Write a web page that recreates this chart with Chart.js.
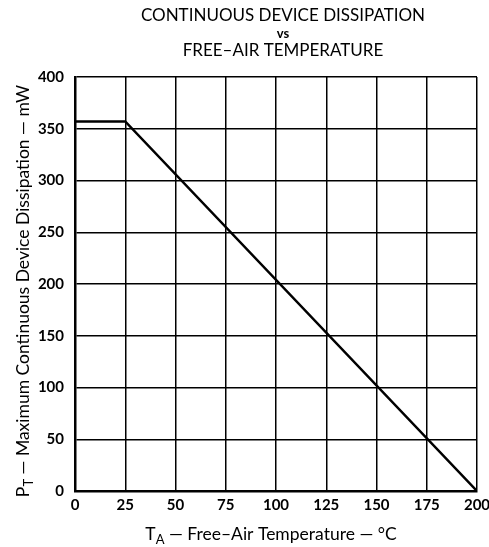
<!DOCTYPE html>
<html>
<head>
<meta charset="utf-8">
<script src="https://cdn.jsdelivr.net/npm/chart.js@4.4.0/dist/chart.umd.min.js"></script>
<style>
  html, body { margin: 0; padding: 0; background: #fff; }
  #wrap { width: 489px; height: 547px; }
</style>
</head>
<body>
<div id="wrap"><canvas id="chart" width="489" height="547"></canvas></div>
<script>
// Data
const temps = [0, 25, 200];          // T_A, °C
const dissipation = [357, 357, 0];   // P_T, mW
const xTicks = [0, 25, 50, 75, 100, 125, 150, 175, 200];
const yTicks = [0, 50, 100, 150, 200, 250, 300, 350, 400];
const titleLines = ['CONTINUOUS DEVICE DISSIPATION', 'vs', 'FREE\u2013AIR TEMPERATURE'];

const FONT = 'Lato, "DejaVu Sans", sans-serif';

// draws title and axis titles (with subscripts)
const textPlugin = {
    id: 'texts',
    afterDraw(chart) {
        const ctx = chart.ctx;
        ctx.save();
        ctx.fillStyle = '#000';
        ctx.textBaseline = 'alphabetic';
        ctx.textAlign = 'center';
        ctx.font = '17px ' + FONT;
        ctx.fillText(titleLines[0], 283, 21);
        ctx.font = 'bold 13px ' + FONT;
        ctx.fillText(titleLines[1], 283, 38);
        ctx.font = '17px ' + FONT;
        ctx.fillText(titleLines[2], 283, 56);

        // x axis title
        ctx.textAlign = 'left';
        drawSub(ctx, 'T', 'A', ' \u2014 Free\u2013Air Temperature \u2014 \u00b0C', 271, 540, 17.5);
        ctx.restore();

        ctx.save();
        ctx.translate(29, 291);
        ctx.rotate(-Math.PI / 2);
        ctx.fillStyle = '#000';
        ctx.textAlign = 'left';
        drawSub(ctx, 'P', 'T', ' \u2014 Maximum Continuous Device Dissipation \u2014 mW', 0, 0, 17.5);
        ctx.restore();
    }
};

// centred text with a subscript after the first letter
function drawSub(ctx, main, sub, rest, cxMid, cy, size) {
    const big = size + 'px ' + FONT;
    const small = Math.round(size * 0.72) + 'px ' + FONT;
    ctx.font = big;
    const w1 = ctx.measureText(main).width;
    ctx.font = small;
    const w2 = ctx.measureText(sub).width;
    ctx.font = big;
    const w3 = ctx.measureText(rest).width;
    const cx = cxMid - (w1 + w2 + w3) / 2;
    ctx.font = big;
    ctx.fillText(main, cx, cy);
    ctx.font = small;
    ctx.fillText(sub, cx + w1, cy + 4);
    ctx.font = big;
    ctx.fillText(rest, cx + w1 + w2, cy);
}

new Chart(document.getElementById('chart'), {
    type: 'scatter',
    data: {
        datasets: [{
            data: temps.map((t, i) => ({ x: t, y: dissipation[i] })),
            showLine: true,
            borderColor: '#000',
            borderWidth: 2.5,
            pointRadius: 0,
            tension: 0
        }]
    },
    options: {
        responsive: false,
        animation: false,
        layout: { padding: { top: 77, right: 12, left: 0, bottom: 0 } },
        plugins: { legend: { display: false }, tooltip: { enabled: false } },
        scales: {
            x: {
                type: 'linear',
                min: 0, max: 200,
                afterBuildTicks: s => { s.ticks = xTicks.map(v => ({ value: v })); },
                afterFit: s => { s.height = 56; s.paddingLeft = 0; s.paddingRight = 0; },
                grid: { color: '#000', lineWidth: 1.5, drawTicks: false },
                border: { color: '#000', width: 2.5 },
                ticks: { color: '#000', font: { family: FONT, size: 15, weight: 'bold' }, padding: 5, maxRotation: 0 }
            },
            y: {
                type: 'linear',
                min: 0, max: 400,
                afterBuildTicks: s => { s.ticks = yTicks.map(v => ({ value: v })); },
                afterFit: s => { s.width = 75; s.paddingTop = 0; s.paddingBottom = 0; },
                grid: { color: '#000', lineWidth: 1.5, drawTicks: false },
                border: { color: '#000', width: 2.5 },
                ticks: { color: '#000', font: { family: FONT, size: 15, weight: 'bold' }, padding: 11 }
            }
        }
    },
    plugins: [textPlugin]
});
</script>
</body>
</html>
